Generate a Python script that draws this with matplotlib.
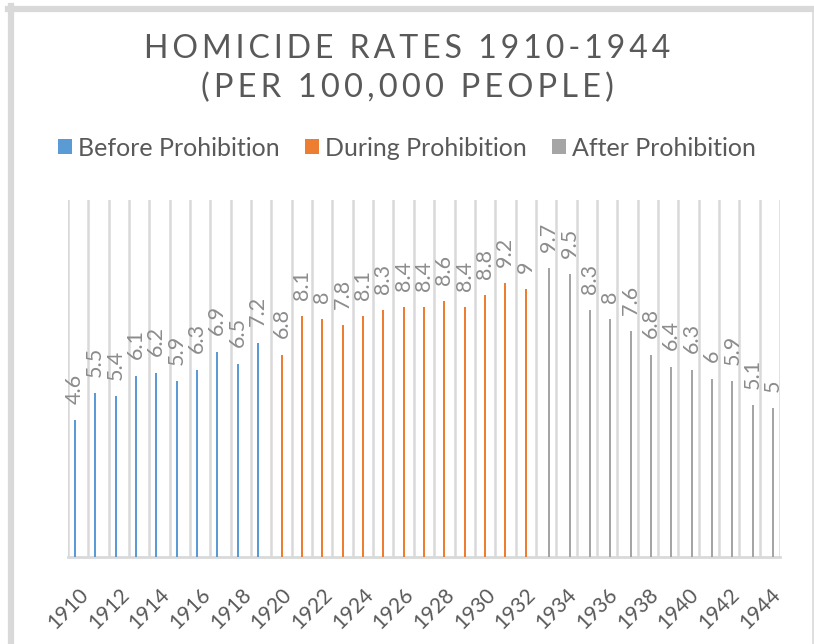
import matplotlib
matplotlib.use("Agg")
import matplotlib.pyplot as plt
from matplotlib.lines import Line2D
from matplotlib.transforms import ScaledTranslation
import numpy as np

# homicide rates per 100,000 people
years = list(range(1910, 1945))
before = [4.6, 5.5, 5.4, 6.1, 6.2, 5.9, 6.3, 6.9, 6.5, 7.2]
during = [6.8, 8.1, 8, 7.8, 8.1, 8.3, 8.4, 8.4, 8.6, 8.4, 8.8, 9.2, 9]
after = [9.7, 9.5, 8.3, 8, 7.6, 6.8, 6.4, 6.3, 6, 5.9, 5.1, 5]
series_names = ["Before Prohibition", "During Prohibition", "After Prohibition"]
colors = ["#5b9bd5", "#ed7d31", "#a5a5a5"]
title_lines = ["HOMICIDE RATES 1910-1944", "(PER 100,000 PEOPLE)"]

plt.rcParams['font.family'] = ['Lato', 'DejaVu Sans']


def spaced(s):
    # wide letter spacing like the original title
    return "\u2009".join(s)


fig = plt.figure(figsize=(8.14, 6.44), dpi=100)
ax = fig.add_axes([68/814, 87/644, 712/814, 357/644])

# each series sits in its own slot of the cluster
offsets = [-0.16, 0.0, 0.16]
start = 0
handles = []
for vals, col, off, name in zip([before, during, after], colors, offsets, series_names):
    x = np.arange(start, start + len(vals)) + off
    b = ax.bar(x, vals, width=0.1, color=col, label=name, zorder=3)
    handles.append(b)
    for xi, v in zip(x, vals):
        ax.text(xi, v + 0.55, f"{v:g}", rotation=90, ha='center', va='bottom',
                fontsize=15.5, color='#8c8c8c')
    start += len(vals)

ax.set_xlim(-0.5, len(years) - 0.5)
ax.set_ylim(0, 12)
ax.set_yticks([])
ax.set_xticks(np.arange(0, len(years), 2))
ax.set_xticklabels([str(y) for y in years[::2]], rotation=45, ha='right',
                   rotation_mode='anchor', fontsize=15, color='#595959')
shift = ScaledTranslation(-4/72, -2/72, fig.dpi_scale_trans)
for lbl in ax.xaxis.get_majorticklabels():
    lbl.set_transform(lbl.get_transform() + shift)
ax.set_xticks(np.arange(len(years) + 1) - 0.5, minor=True)
ax.tick_params(axis='x', which='both', length=0, pad=20)
ax.grid(axis='x', which='minor', color='#d9d9d9', linewidth=1.8, zorder=0)
for s in ['top', 'right', 'left']:
    ax.spines[s].set_visible(False)
ax.spines['bottom'].set_color('#d9d9d9')
ax.spines['bottom'].set_linewidth(2)

fig.text(0.5, 1 - 49/644, spaced(title_lines[0]), ha='center', va='center',
         fontsize=23, color='#595959')
fig.text(0.5, 1 - 88/644, spaced(title_lines[1]), ha='center',
         va='center', fontsize=23.5, color='#595959')

fig.legend(handles=handles, loc='center', bbox_to_anchor=(0.5, 1 - 148/644), ncol=3,
           frameon=False, fontsize=18, handlelength=0.55, handleheight=0.55,
           handletextpad=0.25, columnspacing=1.0, labelcolor='#595959')

# chart frame
fig.add_artist(Line2D([11/814, 11/814], [0, 1 - 6/644], color='#d9d9d9', linewidth=4.5))
fig.add_artist(Line2D([8/814, 1], [1 - 9/644, 1 - 9/644], color='#d9d9d9', linewidth=4.5))
fig.add_artist(Line2D([812.5/814, 812.5/814], [0, 1 - 9/644], color='#d9d9d9', linewidth=1.2))

fig.savefig("out.png", dpi=100)
